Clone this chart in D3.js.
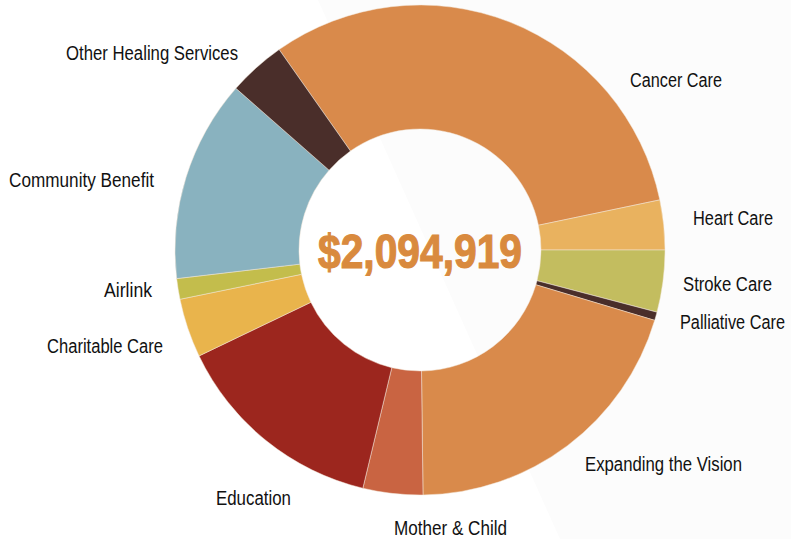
<!DOCTYPE html>
<html>
<head>
<meta charset="utf-8">
<script src="https://cdn.jsdelivr.net/npm/d3@7"></script>
<style>
  html, body { margin: 0; padding: 0; background: #fff; }
  text { font-family: "Liberation Sans", "Arial", sans-serif; }
</style>
</head>
<body>
<div id="chart"></div>
<script>
const width = 791;
const height = 539;

// Slices, clockwise from the Cancer Care start
const categories = [
  "Cancer Care", "Heart Care", "Stroke Care", "Palliative Care",
  "Expanding the Vision", "Mother & Child", "Education",
  "Charitable Care", "Airlink", "Community Benefit", "Other Healing Services"
];
// dollar amounts, total $2,094,919
const amounts = [
  659300, 68700, 85500, 11600, 422500, 82600, 296200,
  81500, 28500, 279300, 79200
];
const sliceColors = [
  "#d98a4b", "#e9b25f", "#c3bd5f", "#4a2e2a", "#d98a4b", "#c96442",
  "#9c261e", "#e9b44c", "#c3bd4c", "#89b2bf", "#4a2e2a"
];
const totalLabel = "$2,094,919";

// label layout only: x, baseline y, anchor, drawn width (condensed face)
const labelLayout = [
  [630, 87, "start", 92], [693, 225, "start", 80], [683, 291, "start", 89],
  [680, 329, "start", 105], [585, 471, "start", 157], [394, 535, "start", 113],
  [291, 505, "end", 75], [163, 353, "end", 116], [152, 297, "end", 48],
  [154, 187, "end", 145], [238, 60, "end", 172]
];

const cx = 420, cy = 250;
const outerR = 245, innerR = 121;
const startDeg = -35.1;

const svg = d3.select("#chart").append("svg")
    .attr("width", width)
    .attr("height", height)
    .attr("viewBox", "0 0 " + width + " " + height);

// faint diagonal shading of the backdrop
svg.append("polygon")
    .attr("points", "318,0 791,0 791,539 560,539")
    .attr("fill", "#fcfcfc");

const start = startDeg * Math.PI / 180;
const pie = d3.pie()
    .sort(null)
    .value(function(d) { return d; })
    .startAngle(start)
    .endAngle(start + 2 * Math.PI);

const arc = d3.arc().innerRadius(innerR).outerRadius(outerR);

const g = svg.append("g").attr("transform", "translate(" + cx + "," + cy + ")");
g.selectAll("path")
    .data(pie(amounts))
    .join("path")
    .attr("d", arc)
    .attr("fill", function(d, i) { return sliceColors[i]; })
    .attr("stroke", "#f3e6d8")
    .attr("stroke-width", 0.5);

svg.append("text")
    .attr("x", cx)
    .attr("y", cy + 18)
    .attr("text-anchor", "middle")
    .attr("font-size", 49)
    .attr("font-weight", "bold")
    .attr("fill", "#d98a3e")
    .attr("stroke", "#d98a3e")
    .attr("stroke-width", 1.2)
    .attr("textLength", 204)
    .attr("lengthAdjust", "spacingAndGlyphs")
    .text(totalLabel);

svg.append("g")
    .selectAll("text")
    .data(categories)
    .join("text")
    .attr("x", function(d, i) { return labelLayout[i][0]; })
    .attr("y", function(d, i) { return labelLayout[i][1]; })
    .attr("text-anchor", function(d, i) { return labelLayout[i][2]; })
    .attr("textLength", function(d, i) { return labelLayout[i][3]; })
    .attr("lengthAdjust", "spacingAndGlyphs")
    .attr("font-size", 19.5)
    .attr("fill", "#111")
    .text(function(d) { return d; });
</script>
</body>
</html>
